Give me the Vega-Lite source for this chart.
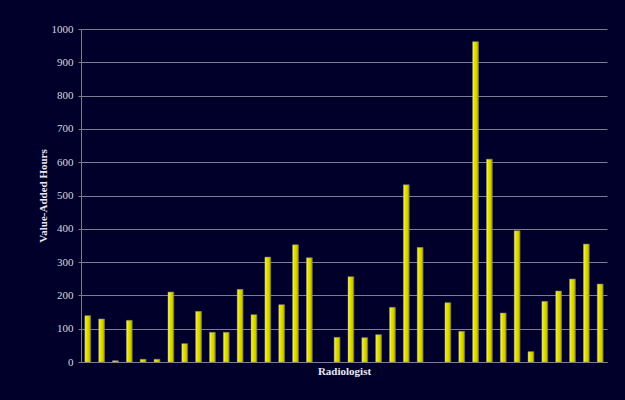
{
  "$schema": "https://vega.github.io/schema/vega-lite/v6.json",
  "width": 526,
  "height": 333,
  "autosize": "none",
  "padding": {"left": 81, "top": 29, "right": 18, "bottom": 38},
  "background": "#00002a",
  "config": {
    "view": {"stroke": null},
    "font": "Liberation Serif"
  },
  "data": {
    "values": [
      {"r": 1, "hours": 139}, {"r": 2, "hours": 129}, {"r": 3, "hours": 4}, {"r": 4, "hours": 125},
      {"r": 5, "hours": 8}, {"r": 6, "hours": 8}, {"r": 7, "hours": 210}, {"r": 8, "hours": 55},
      {"r": 9, "hours": 152}, {"r": 10, "hours": 89}, {"r": 11, "hours": 89}, {"r": 12, "hours": 218},
      {"r": 13, "hours": 142}, {"r": 14, "hours": 315}, {"r": 15, "hours": 172}, {"r": 16, "hours": 352},
      {"r": 17, "hours": 313}, {"r": 18, "hours": null}, {"r": 19, "hours": 74}, {"r": 20, "hours": 256},
      {"r": 21, "hours": 73}, {"r": 22, "hours": 82}, {"r": 23, "hours": 164}, {"r": 24, "hours": 532},
      {"r": 25, "hours": 344}, {"r": 26, "hours": null}, {"r": 27, "hours": 178}, {"r": 28, "hours": 92},
      {"r": 29, "hours": 962}, {"r": 30, "hours": 609}, {"r": 31, "hours": 147}, {"r": 32, "hours": 394},
      {"r": 33, "hours": 31}, {"r": 34, "hours": 182}, {"r": 35, "hours": 213}, {"r": 36, "hours": 249},
      {"r": 37, "hours": 354}, {"r": 38, "hours": 234}
    ]
  },
  "mark": {
    "type": "bar",
    "fill": {
      "gradient": "linear", "x1": 0, "x2": 1, "y1": 0, "y2": 0,
      "stops": [
        {"offset": 0, "color": "#fbfb9a"},
        {"offset": 0.3, "color": "#e6e400"},
        {"offset": 0.75, "color": "#d0cc00"},
        {"offset": 1, "color": "#8a8400"}
      ]
    },
    "stroke": "#9a9a70",
    "strokeWidth": 0.5
  },
  "encoding": {
    "x": {
      "field": "r",
      "type": "ordinal",
      "scale": {"domain": [1,2,3,4,5,6,7,8,9,10,11,12,13,14,15,16,17,18,19,20,21,22,23,24,25,26,27,28,29,30,31,32,33,34,35,36,37,38], "paddingInner": 0.58, "paddingOuter": 0.28},
      "axis": {
        "title": "Radiologist",
        "labels": false,
        "ticks": false,
        "domainColor": "#7e7e90",
        "titleColor": "#e8e8f0",
        "titleFont": "Liberation Serif",
        "titleFontSize": 11,
        "titleFontWeight": "bold",
        "titlePadding": 3
      }
    },
    "y": {
      "field": "hours",
      "type": "quantitative",
      "scale": {"domain": [0, 1000], "nice": false},
      "axis": {
        "title": "Value-Added Hours",
        "format": "d",
        "values": [0,100,200,300,400,500,600,700,800,900,1000],
        "grid": true,
        "gridColor": "#7e7e90",
        "gridWidth": 1,
        "domainColor": "#7e7e90",
        "tickColor": "#7e7e90",
        "tickSize": 3,
        "labelColor": "#d8d8e0",
        "labelFont": "Liberation Serif",
        "labelFontSize": 11,
        "labelPadding": 5,
        "titleColor": "#e8e8f0",
        "titleFont": "Liberation Serif",
        "titleFontSize": 11,
        "titleFontWeight": "bold",
        "titlePadding": 3
      }
    }
  }
}
